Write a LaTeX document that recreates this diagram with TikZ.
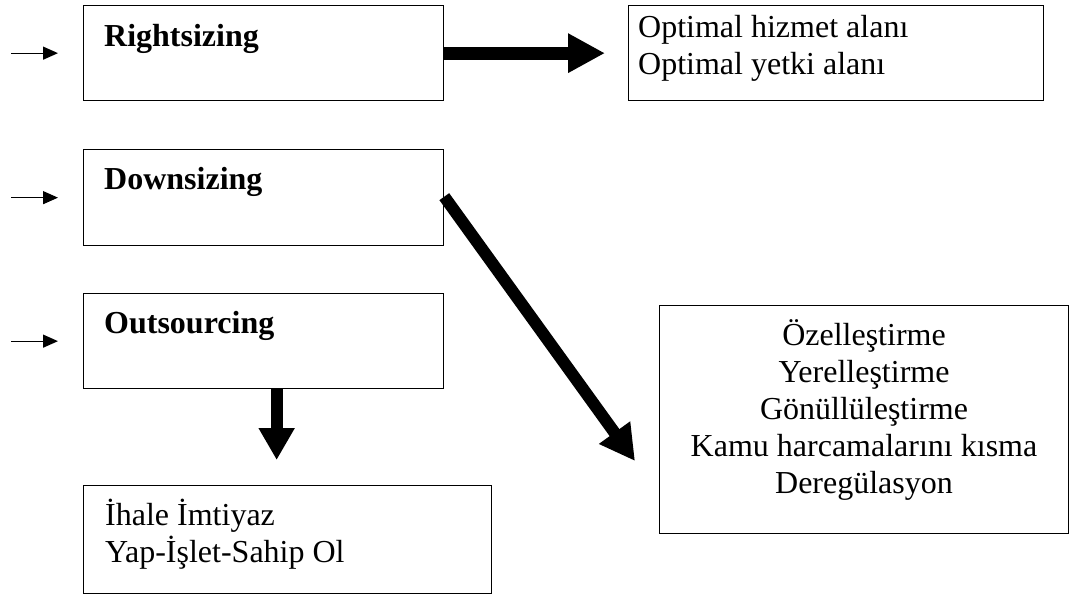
\documentclass[tikz,border=0pt]{standalone}
\usepackage{fontspec}
\setmainfont{Liberation Serif}
\usetikzlibrary{arrows.meta}
\begin{document}
\begin{tikzpicture}[x=1pt,y=-1pt,
  box/.style={draw=black, line width=1.3pt, fill=white, inner sep=0pt, anchor=north west},
  ttl/.style={font=\fontsize{32}{37}\selectfont\bfseries, inner sep=0pt, anchor=base west},
  txt/.style={font=\fontsize{32}{37}\selectfont, inner sep=0pt},
  thin arrow/.style={line width=1.3pt, -{Triangle[length=15pt,width=13pt]}},
  fat arrow/.style={line width=12pt, -{Triangle[length=35pt,width=36pt]}}]
  \useasboundingbox (0,0) rectangle (1072,595);

  % left column of boxes
  \node[box, minimum width=360pt, minimum height=95pt] (R) at (83,5) {};
  \node[box, minimum width=360pt, minimum height=96pt] (D) at (83,149) {};
  \node[box, minimum width=360pt, minimum height=95pt] (O) at (83,293) {};
  \node[box, minimum width=408pt, minimum height=108pt] (B) at (83,485) {};

  % right boxes
  \node[box, minimum width=415pt, minimum height=95pt] (T) at (628,5) {};
  \node[box, minimum width=409pt, minimum height=228pt] (K) at (659,305) {};

  % titles
  \node[ttl] (Rt) at (104,46) {Rightsizing};
  \node[ttl] (Dt) at (104,189) {Downsizing};
  \node[ttl] (Ot) at (104,333) {Outsourcing};

  % box contents (base anchor sits on the last line)
  \node[txt, align=left, anchor=base west] (Tt) at (638,74)
    {Optimal hizmet alanı\\Optimal yetki alanı};
  \node[txt, align=left, anchor=base west] (Bt) at (105,562)
    {İhale İmtiyaz\\Yap-İşlet-Sahip Ol};
  \node[txt, align=center, anchor=base] (Kt) at (864,493)
    {Özelleştirme\\Yerelleştirme\\Gönüllüleştirme\\Kamu harcamalarını kısma\\Deregülasyon};

  % small incoming arrows
  \foreach \n in {R,D,O}
    \draw[thin arrow] ([xshift=-72pt]\n.west) -- ([xshift=-25pt]\n.west);

  % heavy arrows
  \coordinate (dtip) at (635,461);
  \draw[fat arrow, line width=13pt, -{Triangle[length=37pt,width=37pt]}, shorten >=23pt]
    (R.east) -- (T.west);
  \draw[fat arrow] ([yshift=1pt]D.east) -- (dtip);
  \draw[fat arrow, -{Triangle[length=32pt,width=34pt]}, shorten >=25pt]
    ([xshift=13pt]O.south) -- ([xshift=13pt]O.south |- B.north);
\end{tikzpicture}
\end{document}
